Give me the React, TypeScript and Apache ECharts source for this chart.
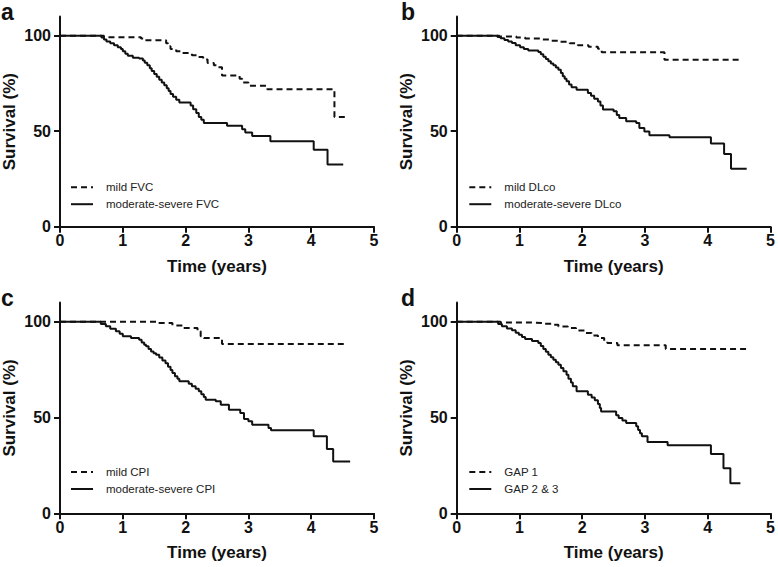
import React, { useEffect, useRef } from 'react';
import * as echarts from 'echarts';

const timeTicks = [0, 1, 2, 3, 4, 5];
const survivalTicks = [0, 50, 100];
const panelLetters = ['a', 'b', 'c', 'd'];
const legendNames = [
  ['mild FVC', 'moderate-severe FVC'],
  ['mild DLco', 'moderate-severe DLco'],
  ['mild CPI', 'moderate-severe CPI'],
  ['GAP 1', 'GAP 2 & 3'],
];

// [time (years), survival (%)]
const mildFVC = [[0,100],[0.66,100],[0.70,99.2],[1.29,98.5],[1.33,97.6],[1.66,97.6],[1.69,96],[1.72,94.5],[1.76,93],[1.85,91.8],[1.95,90.9],[2.10,89.8],[2.20,88.8],[2.28,87.5],[2.35,85.7],[2.45,84.5],[2.50,83.5],[2.58,79.2],[2.86,77.5],[2.90,75.5],[3.00,73.8],[3.30,72],[4.37,57.5],[4.58,57.5]];
const modSevFVC = [[0,100],[0.62,100],[0.66,99],[0.70,98],[0.74,97],[0.80,96],[0.86,95],[0.92,94],[0.97,93],[1.00,91.8],[1.04,90.5],[1.08,89.5],[1.16,88.5],[1.26,88],[1.32,87],[1.35,85.8],[1.39,84.5],[1.43,83],[1.46,81.5],[1.50,80],[1.54,78.5],[1.58,77],[1.62,75.5],[1.66,74],[1.70,72.5],[1.73,71],[1.76,69.5],[1.80,68],[1.85,66.5],[1.90,65],[2.08,63.5],[2.12,61.5],[2.17,59.5],[2.21,57.5],[2.25,56],[2.29,54.3],[2.66,52.9],[2.90,51],[2.95,49.3],[3.06,47.5],[3.35,44.7],[4.04,40.3],[4.26,32.6],[4.51,32.6]];
const mildDLco = [[0,100],[0.65,100],[0.68,99.6],[0.95,99],[1.09,98.5],[1.35,98],[1.51,97.4],[1.65,96.8],[1.80,96],[1.93,95],[2.10,94.2],[2.25,93.2],[2.31,91.3],[3.31,87.4],[4.54,87.4]];
const modSevDLco = [[0,100],[0.61,100],[0.65,99.3],[0.70,98.6],[0.76,97.8],[0.82,97],[0.88,96.2],[0.94,95],[1.01,93.9],[1.07,93],[1.14,92.2],[1.30,91.5],[1.34,90.3],[1.38,89],[1.42,87.8],[1.46,86.6],[1.50,85.5],[1.54,84.5],[1.58,83.3],[1.62,82.2],[1.66,80.5],[1.69,78.8],[1.72,77.5],[1.75,76.1],[1.79,74.5],[1.83,73],[1.91,71.7],[2.09,70],[2.14,68.5],[2.19,67],[2.25,65.6],[2.29,63.5],[2.33,61.3],[2.50,60.4],[2.55,58.5],[2.59,56.9],[2.70,55.2],[2.86,54.3],[2.91,51.7],[2.99,49.9],[3.07,47.9],[3.39,46.8],[4.05,43.5],[4.26,38.1],[4.37,30.4],[4.62,30.4]];
const mildCPI = [[0,100],[0.65,100],[1.55,99.3],[1.79,98.1],[1.95,96.7],[2.19,95],[2.24,92.4],[2.29,91.5],[2.58,88.4],[4.56,88.4]];
const modSevCPI = [[0,100],[0.60,100],[0.65,98.8],[0.73,97.6],[0.80,96.3],[0.89,95],[0.95,93.7],[1.00,92.4],[1.13,91.5],[1.26,90.6],[1.30,89.2],[1.34,88],[1.37,87.2],[1.41,85.8],[1.45,84.5],[1.49,83.6],[1.53,82.8],[1.58,81.3],[1.63,79.8],[1.68,78.4],[1.72,76.5],[1.76,74.8],[1.79,73.2],[1.83,71.5],[1.87,70.2],[1.90,68.9],[2.05,67.6],[2.10,66.3],[2.16,65],[2.21,63.7],[2.25,62.2],[2.29,60.7],[2.32,59.3],[2.48,58.5],[2.56,56.7],[2.69,54.1],[2.87,52.3],[2.93,49.2],[3.00,48],[3.06,46.2],[3.32,44.5],[3.36,43.3],[4.04,40.2],[4.25,33.6],[4.35,27.1],[4.62,27.1]];
const gap1 = [[0,100],[0.62,100],[0.70,99.6],[1.19,99.3],[1.40,98.9],[1.51,98.4],[1.62,97.5],[1.77,96.7],[1.90,95.4],[2.04,94.1],[2.15,92.8],[2.25,91.5],[2.35,90],[2.40,88.9],[2.56,87.7],[3.33,85.8],[4.63,85.8]];
const gap23 = [[0,100],[0.61,100],[0.66,98.8],[0.72,97.6],[0.80,96.5],[0.88,95.5],[0.94,94.3],[0.99,93.2],[1.04,92],[1.09,91],[1.20,90],[1.30,88.9],[1.34,87.3],[1.38,85.8],[1.42,84.3],[1.46,82.8],[1.50,81.5],[1.54,80.2],[1.58,78.9],[1.62,77.6],[1.66,75.8],[1.70,74.1],[1.75,72.3],[1.78,70.3],[1.82,68.3],[1.85,66.3],[1.91,63.7],[2.09,61.9],[2.15,60.5],[2.20,59],[2.25,57],[2.28,55],[2.30,53.2],[2.54,51.2],[2.58,49.7],[2.64,48.4],[2.70,47.1],[2.86,45.5],[2.89,43.5],[2.92,41.8],[2.95,40.2],[3.04,37.2],[3.36,35.5],[4.05,31],[4.25,23.5],[4.36,15.7],[4.52,15.7]];

const panelData = [
  [mildFVC, modSevFVC],
  [mildDLco, modSevDLco],
  [mildCPI, modSevCPI],
  [gap1, gap23],
];

const FONT = "'Liberation Sans', Arial, Helvetica, sans-serif";

export default function App() {
  const ref = useRef<HTMLDivElement>(null);
  useEffect(() => {
    document.body.style.margin = '0';
    const chart = echarts.init(ref.current!, null, { renderer: 'svg' });
    const grids = [
      { left: 58.7, top: 16.6, width: 315.3, height: 210.1 },
      { left: 456.7, top: 16.6, width: 315.6, height: 210.1 },
      { left: 58.7, top: 302.6, width: 315.3, height: 210.7 },
      { left: 456.7, top: 302.6, width: 315.6, height: 210.7 },
    ];
    const legendPos = [
      { left: 70, top: 181.2 },
      { left: 468.3, top: 181.2 },
      { left: 70, top: 466 },
      { left: 468.3, top: 466 },
    ];
    const letterPos = [
      { x: 1, y: 11.5 },
      { x: 401, y: 11.5 },
      { x: 1, y: 297.5 },
      { x: 401, y: 297.5 },
    ];
    const axisLine = { show: true, lineStyle: { color: '#111', width: 2 } };
    const xAxis = grids.map((_, i) => ({
      type: 'value',
      gridIndex: i,
      min: 0,
      max: 5,
      interval: 1,
      splitLine: { show: false },
      axisLine: { ...axisLine, onZero: false },
      axisTick: { show: true, length: 6, lineStyle: { color: '#111', width: 2 }, customValues: timeTicks },
      axisLabel: { color: '#111', fontSize: 16, fontWeight: 'bold', fontFamily: FONT, margin: 6, customValues: timeTicks },
      name: 'Time (years)',
      nameLocation: 'middle',
      nameGap: 31,
      nameTextStyle: { color: '#111', fontSize: 17, fontWeight: 'bold', fontFamily: FONT },
    }));
    const yAxis = grids.map((_, i) => ({
      type: 'value',
      gridIndex: i,
      min: 0,
      max: 110,
      interval: 50,
      splitLine: { show: false },
      axisLine: { ...axisLine, onZero: false },
      axisTick: { show: true, length: 6, lineStyle: { color: '#111', width: 2 }, customValues: survivalTicks },
      axisLabel: { color: '#111', fontSize: 16, fontWeight: 'bold', fontFamily: FONT, margin: 9, customValues: survivalTicks },
      name: 'Survival (%)',
      nameLocation: 'middle',
      nameGap: 42,
      nameRotate: 90,
      nameTextStyle: { color: '#111', fontSize: 17, fontWeight: 'bold', fontFamily: FONT },
    }));
    const series: any[] = [];
    panelData.forEach((pair, i) => {
      pair.forEach((data, j) => {
        series.push({
          type: 'line',
          name: legendNames[i][j],
          xAxisIndex: i,
          yAxisIndex: i,
          data,
          step: 'end',
          symbol: 'none',
          lineStyle: { color: '#111', width: 2, type: j === 0 ? [6, 4] : 'solid' },
          itemStyle: { color: '#111' },
        });
      });
    });
    const legend = legendPos.map((p, i) => ({
      ...p,
      orient: 'vertical',
      padding: 0,
      data: legendNames[i],
      itemWidth: 22,
      itemHeight: 14,
      itemGap: 5,
      selectedMode: false,
      itemStyle: { opacity: 0 },
      textStyle: { color: '#222', fontSize: 11.5, fontFamily: FONT, padding: [0, 0, 0, 8] },
    }));
    chart.setOption({
      animation: false,
      backgroundColor: '#fff',
      grid: grids,
      xAxis,
      yAxis,
      legend,
      series,
      graphic: panelLetters.map((t, i) => ({
        type: 'text',
        x: letterPos[i].x,
        y: letterPos[i].y,
        style: { text: t, fill: '#111', fontSize: 23, fontWeight: 'bold', fontFamily: FONT, verticalAlign: 'middle' },
      })),
    });
    return () => chart.dispose();
  }, []);
  return <div ref={ref} style={{ width: 778, height: 567 }} />;
}
